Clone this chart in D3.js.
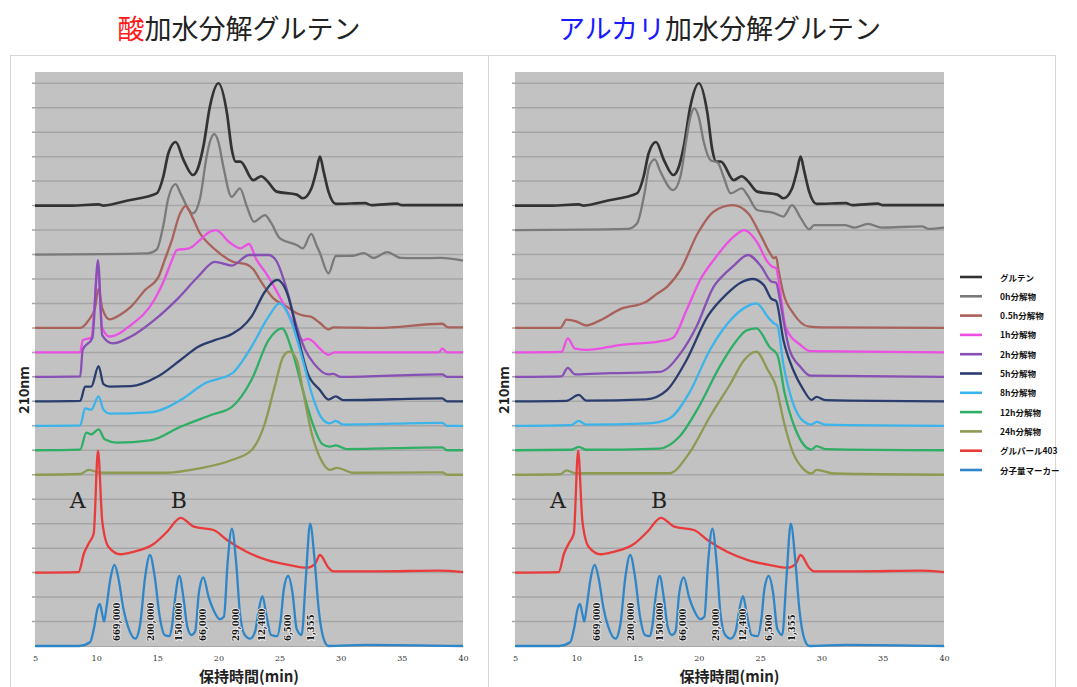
<!DOCTYPE html>
<meta charset="utf-8">
<head>
<style>
  body { margin: 0; background: #fff; }
  svg { display: block; font-family: "Noto Sans CJK JP", "Noto Sans", sans-serif; }
</style>
</head>
<title>加水分解グルテン</title>
<script src="https://d3js.org/d3.v7.min.js"></script>
<div id="chart"></div>
<script>

// series names (legend order = drawing order)
var seriesNames = ["グルテン", "0h分解物", "0.5h分解物", "1h分解物", "2h分解物", "5h分解物",
                   "8h分解物", "12h分解物", "24h分解物", "グルパール403", "分子量マーカー"];
var seriesColors = ["#333333", "#7a7a7a", "#a8625b", "#ec4fe4", "#8750b4", "#2b3d6e",
                    "#3ab4ea", "#2fae66", "#8c9a52", "#e93b3b", "#2e86c9"];

var xTicks = [5, 10, 15, 20, 25, 30, 35, 40];

// [retention time (min), offset signal]
var gluten = [[5,18],[8,18],[10.2,18.05],[10.6,18],[12.5,18.2],[14.95,18.5],[15.5,19.2],[15.9,20.13],[16.5,20.6],[17.15,19.86],[17.9,19.25],[18.3,19.5],[18.8,20.5],[19.3,22.04],[20.0,23.0],[20.7,21.77],[21.1,20.27],[21.4,19.8],[21.8,19.8],[22.85,19.04],[23.5,19.2],[24.0,19.0],[24.76,18.57],[26.4,18.45],[26.9,18.3],[27.6,18.7],[28.0,19.4],[28.3,20.0],[28.6,19.4],[29.0,18.57],[29.6,18.07],[32,18.1],[32.5,18.02],[34.6,18.08],[35,18.02],[40,18.02]];

var gluparl = [[5,3],[8.56,3.02],[9.0,3.78],[9.4,4.2],[9.8,4.6],[10.15,7.98],[10.5,5.1],[11.0,4.06],[12.0,3.75],[13.05,3.85],[14.7,4.17],[15.8,4.67],[16.9,5.24],[18.0,4.88],[19.6,4.74],[20.7,4.33],[22.3,3.85],[24.0,3.51],[25.9,3.3],[27.2,3.2],[27.9,3.35],[28.3,3.72],[29.0,3.2],[29.4,3.05],[33,3.05],[38,3.08],[40,3.02]];

var marker = [[5,0],[8.6,0],[9.5,0.15],[9.85,0.8],[10.1,1.5],[10.3,1.72],[10.5,1.3],[10.65,1.0],[10.85,1.6],[11.15,2.7],[11.5,3.31],[11.85,2.7],[12.2,1.6],[12.6,0.8],[13.2,0.3],[13.6,0.9],[14.0,2.8],[14.4,3.72],[14.8,2.8],[15.2,1.2],[15.6,0.45],[16.0,0.4],[16.2,0.8],[16.45,1.93],[16.8,2.86],[17.15,1.93],[17.45,0.8],[17.8,0.45],[18.1,0.6],[18.4,2.17],[18.77,2.8],[19.2,2.0],[19.6,1.47],[20.1,1.1],[20.45,1.2],[20.75,3.4],[21.1,4.8],[21.45,3.4],[21.75,1.4],[22.1,0.5],[22.6,0.3],[23.0,0.6],[23.3,1.47],[23.6,2.04],[23.9,1.33],[24.3,0.45],[24.8,0.4],[25.1,1.1],[25.35,2.33],[25.7,2.86],[26.05,2.2],[26.4,0.7],[26.8,0.45],[27.15,2.8],[27.5,5.0],[27.85,3.6],[28.2,1.5],[28.6,0.3],[29.0,0],[32,0.05],[40,0]];

var markerLabels = ["669,000", "200,000", "150,000", "66,000", "29,000", "12,400", "6,500", "1,355"];
var markerLabelT = [11.7, 14.5, 16.8, 18.7, 21.4, 23.6, 25.7, 27.6];

// acid hydrolysis
var acid0h = [[5,16],[14.2,16.05],[14.95,16.2],[15.5,17.2],[15.9,18.3],[16.5,18.88],[16.9,18.5],[17.9,17.68],[18.5,18.3],[19.0,19.9],[19.3,20.6],[19.66,20.92],[20.0,20.6],[20.4,19.6],[21.08,18.36],[21.76,18.7],[22.3,18.0],[22.9,17.34],[23.8,17.61],[24.3,17.3],[25.03,16.66],[26.4,16.39],[26.9,16.25],[27.6,16.84],[28.0,16.4],[28.3,16.06],[29.0,15.23],[29.6,15.94],[31.0,15.95],[31.9,16.06],[32.7,15.86],[33.8,16.1],[34.9,15.86],[36,15.85],[38.2,15.86],[40,15.75]];
var acid05h = [[5,13],[8.7,13],[9.36,13.3],[9.9,13.8],[10.2,14.6],[10.5,13.8],[11.1,13.35],[12.0,13.55],[12.85,13.87],[14.0,14.55],[15.1,15.09],[15.6,15.77],[16.2,16.6],[16.8,17.6],[17.35,17.99],[17.8,17.6],[18.5,16.86],[19.3,16.4],[20.1,16.05],[21.2,15.7],[22.3,15.6],[22.85,15.4],[23.4,14.96],[24.5,14.21],[25.6,13.87],[26.4,13.6],[27.0,13.5],[27.6,13.45],[28.3,13.2],[29.0,12.94],[29.4,13.02],[33,13.0],[38.3,13.17],[38.8,13.02],[40,13.02]];
var acid1h = [[5,12],[8.7,12],[8.9,12.5],[9.6,12.6],[10.15,15.4],[10.5,13.0],[11.1,12.65],[12.85,13.12],[14.75,14.14],[15.6,15.0],[16.2,15.77],[16.6,16.18],[17.6,16.25],[18.5,16.6],[19.3,16.93],[19.8,17.0],[20.9,16.5],[21.8,16.25],[22.5,16.43],[23.1,15.8],[23.9,15.23],[25.3,14.0],[26.1,13.2],[26.9,12.5],[27.3,12.55],[27.6,12.5],[28.3,12.15],[29.0,11.9],[29.5,12.0],[38,12.0],[38.3,12.15],[38.7,12.0],[40,12.0]];
var acid2h = [[5,11],[8.7,11.02],[8.9,12.1],[9.7,12.6],[10.15,15.77],[10.5,12.7],[11.35,12.37],[12.85,12.65],[14.75,13.32],[16.7,14.21],[18.35,15.1],[19.7,15.7],[21.1,15.55],[22.5,15.98],[24.1,15.98],[24.7,15.77],[25.6,14.55],[26.4,13.05],[27.1,12.1],[27.8,11.55],[29.0,11.1],[29.4,11.12],[30,11.0],[38.3,11.1],[38.7,11.0],[40,11.0]];
var acid5h = [[5,10],[8.7,10.02],[9.1,10.6],[9.6,10.6],[10.2,11.44],[10.6,10.7],[11.1,10.6],[12.85,10.62],[15.0,11.0],[16.9,11.69],[18.35,12.23],[19.7,12.5],[21.1,12.75],[22.7,13.46],[23.8,14.48],[24.8,14.96],[25.7,14.3],[26.5,12.65],[27.3,11.14],[28.3,10.46],[29.0,10.07],[29.6,10.2],[30.2,10.05],[38.3,10.12],[38.7,10.0],[40,10.0]];
var acid8h = [[5,9],[8.7,9.02],[9.1,9.71],[9.6,9.66],[10.2,10.2],[10.6,9.66],[11.1,9.5],[14.4,9.55],[16.9,10.05],[18.9,10.74],[21.1,11.14],[22.7,12.23],[24.1,13.46],[25.0,14.0],[26.0,13.2],[26.9,11.69],[27.7,10.2],[28.4,9.35],[29.1,9.1],[29.6,9.2],[30.2,9.05],[38.3,9.12],[38.7,9.0],[40,9.0]];
var acid12h = [[5,8],[8.7,8.03],[9.2,8.72],[9.6,8.65],[10.2,8.85],[10.7,8.45],[11.7,8.31],[14.4,8.4],[16.9,8.96],[19.4,9.44],[21.1,9.77],[22.7,10.87],[24.1,12.5],[25.2,12.98],[26.0,12.1],[26.9,10.46],[27.7,9.1],[28.5,8.25],[29.1,8.15],[29.6,8.2],[30.5,8.05],[38.3,8.12],[38.7,8.0],[40,8.0]];
var acid24h = [[5,7],[8.7,7.03],[9.4,7.2],[10.3,7.08],[15.6,7.08],[18.35,7.25],[21.1,7.6],[22.7,8.0],[23.8,9.1],[24.6,10.6],[25.3,11.83],[25.8,12.03],[26.4,11.7],[26.9,10.46],[27.7,8.55],[28.4,7.6],[29.1,7.2],[29.7,7.28],[31,7.08],[38.3,7.1],[38.7,7.0],[40,7.0]];

// alkali hydrolysis
var alk0h = [[5,17],[14.2,17.05],[14.95,17.27],[15.6,18.6],[15.95,19.6],[16.4,19.89],[16.85,19.4],[17.9,18.63],[18.5,19.2],[18.95,20.6],[19.3,21.6],[19.63,21.97],[20.0,21.6],[20.4,20.6],[20.95,19.86],[21.55,19.75],[22.0,19.2],[22.6,18.5],[23.5,18.7],[24.0,18.4],[24.76,17.82],[26.1,17.7],[26.9,17.55],[27.6,18.02],[28.3,17.5],[29.0,17.03],[29.4,17.2],[31.9,17.2],[32.7,17.1],[33.8,17.25],[34.9,17.1],[38.2,17.15],[38.7,17.05],[40,17.1]];
var alk05h = [[5,13],[8.7,13.0],[9.2,13.34],[10.0,13.27],[10.8,13.1],[11.9,13.3],[13.55,13.76],[15.7,14.07],[16.6,14.4],[17.4,14.68],[18.5,15.37],[19.9,16.86],[21.2,17.75],[22.75,18.02],[24.0,17.7],[25.1,16.73],[25.9,15.98],[26.1,15.85],[26.3,15.9],[26.5,15.36],[26.9,14.41],[27.7,13.6],[29.0,13.05],[30,13.02],[40,13.0]];
var alk1h = [[5,12],[8.8,12.02],[9.3,12.57],[9.9,12.15],[10.9,12.1],[13.55,12.3],[16.8,12.45],[17.9,12.6],[19.0,13.73],[20.1,14.96],[21.2,15.77],[22.85,16.73],[23.7,17.0],[24.76,16.5],[25.6,15.7],[26.0,15.5],[26.3,15.45],[26.6,14.6],[27.1,13.0],[28.3,12.3],[29.1,12.05],[40,12.0]];
var alk2h = [[5,11],[8.8,11.02],[9.3,11.37],[9.9,11.1],[12.8,11.15],[16.8,11.2],[18.5,11.96],[19.8,13.05],[21.2,14.68],[22.3,15.3],[22.85,15.55],[24.0,15.98],[25.1,15.5],[25.9,14.9],[26.3,14.85],[26.6,14.2],[26.9,13.32],[27.4,12.1],[28.3,11.4],[29.1,11.05],[40,11.0]];
var alk5h = [[5,10],[9.2,10.02],[10.2,10.26],[10.8,10.03],[15.7,10.08],[17.4,10.46],[19.0,11.69],[20.7,13.46],[22.3,14.4],[23.4,14.85],[24.4,15.0],[25.3,14.75],[25.9,14.2],[26.3,14.1],[26.9,12.5],[27.7,11.28],[28.5,10.5],[29.2,10.06],[29.6,10.18],[30.3,10.05],[40,10.0]];
var alk8h = [[5,9],[9.6,9.03],[10.2,9.2],[10.8,9.05],[15.9,9.1],[17.6,9.3],[19.2,10.33],[20.9,12.1],[22.85,13.46],[23.9,13.87],[24.7,14.0],[25.7,13.4],[26.1,13.2],[26.4,13.1],[26.9,11.5],[27.7,9.9],[28.5,9.2],[29.2,9.05],[29.6,9.16],[30.3,9.05],[40,9.0]];
var alk12h = [[5,8],[9.6,8.02],[10.2,8.14],[10.8,8.02],[16.8,8.07],[18.4,8.55],[20.0,9.78],[21.7,11.42],[23.1,12.5],[23.9,12.9],[24.7,12.98],[25.8,12.2],[26.4,11.9],[27.0,10.33],[27.8,8.96],[28.6,8.2],[29.2,8.03],[29.6,8.17],[30.3,8.05],[40,8.0]];
var alk24h = [[5,7],[8.7,7.02],[9.2,7.18],[9.9,7.06],[17.6,7.06],[19.2,7.87],[20.9,9.37],[22.6,10.74],[23.7,11.69],[24.7,12.03],[25.6,11.3],[26.3,10.6],[26.9,9.24],[27.7,7.87],[28.5,7.25],[29.2,7.05],[29.6,7.2],[31,7.05],[40,7.0]];

var acidSeries = [gluten, acid0h, acid05h, acid1h, acid2h, acid5h, acid8h, acid12h, acid24h, gluparl, marker];
var alkSeries  = [gluten, alk0h, alk05h, alk1h, alk2h, alk5h, alk8h, alk12h, alk24h, gluparl, marker];

var W = 1077, H = 687;
var svg = d3.select("#chart").append("svg")
    .attr("width", W).attr("height", H);

svg.append("rect").attr("width", W).attr("height", H).attr("fill", "#fff");

// outer frame + divider
svg.append("rect").attr("x", 10.5).attr("y", 55.5).attr("width", 1045).attr("height", 660)
    .attr("fill", "none").attr("stroke", "#d6d6d6");
svg.append("line").attr("x1", 488.5).attr("x2", 488.5).attr("y1", 55).attr("y2", H)
    .attr("stroke", "#d6d6d6");

var plotTop = 72, plotBottom = 646;
var y = d3.scaleLinear().domain([0, 23.46]).range([plotBottom, plotTop]);

function drawPanel(x0, x1, series, title, titleColored, titleColor) {
  var x = d3.scaleLinear().domain([5, 40]).range([x0, x1]);
  var g = svg.append("g");

  // title
  var t = svg.append("text").attr("x", (x0 + x1) / 2 - 10).attr("y", 39)
      .attr("text-anchor", "middle").attr("font-size", 27).attr("fill", "#222");
  t.append("tspan").attr("fill", titleColor).text(titleColored);
  t.append("tspan").text(title);

  g.append("rect").attr("x", x0).attr("y", plotTop).attr("width", x1 - x0).attr("height", plotBottom - plotTop)
      .attr("fill", "#c2c2c2");

  var grid = d3.range(1, 24);
  g.selectAll("line.grid").data(grid).enter().append("line")
      .attr("x1", x0 - 3).attr("x2", x1)
      .attr("y1", function(d) { return y(d); }).attr("y2", function(d) { return y(d); })
      .attr("stroke", "#a6a6a6").attr("stroke-width", 1.5);

  // x axis
  var ax = g.append("g").attr("transform", "translate(0," + plotBottom + ")")
      .call(d3.axisBottom(x).tickValues(xTicks).tickSize(0).tickPadding(9));
  ax.select(".domain").attr("stroke", "#a6a6a6");
  ax.selectAll("text").attr("font-size", 8).attr("font-family", "DejaVu Serif").attr("fill", "#333");

  g.append("text").attr("x", (x0 + x1) / 2).attr("y", 682)
      .attr("text-anchor", "middle").attr("font-size", 15).attr("font-weight", "bold")
      .attr("fill", "#222").text("保持時間(min)");

  g.append("text").attr("transform", "translate(" + (x0 - 6) + ",390) rotate(-90)")
      .attr("text-anchor", "middle").attr("font-size", 14).attr("font-weight", "bold")
      .attr("fill", "#222").text("210nm");

  var line = d3.line()
      .x(function(d) { return x(d[0]); })
      .y(function(d) { return y(d[1]); })
      .curve(d3.curveMonotoneX);

  g.selectAll("path.series").data(series).enter().append("path")
      .attr("d", line)
      .attr("fill", "none")
      .attr("stroke", function(d, i) { return seriesColors[i]; })
      .attr("stroke-width", function(d, i) { return i === 0 ? 2.7 : 2.3; })
      .attr("stroke-linejoin", "round");

  // molecular weight labels
  g.selectAll("text.mw").data(markerLabels).enter().append("text")
      .attr("transform", function(d, i) { return "translate(" + (x(markerLabelT[i]) + 3) + ",641) rotate(-90)"; })
      .attr("font-size", 8.5).attr("font-weight", "bold").attr("font-family", "DejaVu Serif")
      .attr("fill", "#111").attr("stroke", "#eee").attr("stroke-width", 1.6)
      .attr("paint-order", "stroke")
      .text(function(d) { return d; });

  // A / B peak labels
  [["A", 10.3], ["B", 17.0]].forEach(function(p, i) {
    g.append("text").attr("x", x(p[1]) + (i === 0 ? -30 : -11)).attr("y", 508)
        .attr("font-size", 22).attr("font-family", "DejaVu Serif").attr("fill", "#222")
        .text(p[0]);
  });
}

drawPanel(35, 463, acidSeries, "加水分解グルテン", "酸", "#ff1a1a");
drawPanel(515, 944, alkSeries, "加水分解グルテン", "アルカリ", "#1a1aff");

// legend
var leg = svg.append("g");
seriesNames.forEach(function(name, i) {
  var ly = 277 + i * 19.3;
  leg.append("line").attr("x1", 960).attr("x2", 982).attr("y1", ly).attr("y2", ly)
      .attr("stroke", seriesColors[i]).attr("stroke-width", 2.6);
  leg.append("text").attr("x", 1000).attr("y", ly + 3.5)
      .attr("font-size", 8.5).attr("font-weight", "bold").attr("fill", "#111").text(name);
});

</script>
